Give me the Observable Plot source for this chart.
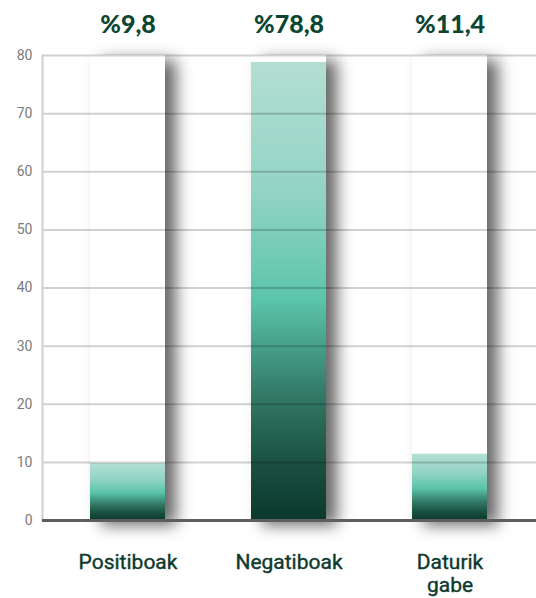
<!DOCTYPE html>
<html>
<head>
<meta charset="utf-8">
<script src="https://cdn.jsdelivr.net/npm/d3@7"></script>
<script src="https://cdn.jsdelivr.net/npm/@observablehq/plot@0.6"></script>
<style>
  html, body { margin: 0; padding: 0; background: #fff; }
  #chart svg { display: block; }
</style>
</head>
<body>
<div id="chart"></div>
<script>
const categories = ["Positiboak", "Negatiboak", "Daturik gabe"];
const values = [9.8, 78.8, 11.4];
const valueLabels = ["%9,8", "%78,8", "%11,4"];
const categoryLabels = ["Positiboak", "Negatiboak", "Daturik\ngabe"];
const yTicks = [0, 10, 20, 30, 40, 50, 60, 70, 80];
const yMax = 80;

const data = categories.map((c, i) => ({cat: c, value: values[i], label: valueLabels[i], name: categoryLabels[i]}));

const defs = () => {
  const ns = "http://www.w3.org/2000/svg";
  const d = document.createElementNS(ns, "defs");
  d.innerHTML = `
    <linearGradient id="barGrad" x1="0" y1="0" x2="0" y2="1">
      <stop offset="0%" stop-color="#b4ded4"/>
      <stop offset="28%" stop-color="#93d4c4"/>
      <stop offset="52%" stop-color="#5bc4aa"/>
      <stop offset="72%" stop-color="#337b68"/>
      <stop offset="88%" stop-color="#1a4f40"/>
      <stop offset="100%" stop-color="#0a392b"/>
    </linearGradient>
    <filter id="shadow" x="-30%" y="-10%" width="190%" height="125%">
      <feDropShadow dx="11" dy="5" stdDeviation="8" flood-color="#000" flood-opacity="0.6"/>
    </filter>`;
  return d;
};

const chart = Plot.plot({
  width: 536,
  height: 598,
  marginTop: 55,
  marginBottom: 78,
  marginLeft: 42,
  marginRight: 0,
  style: {fontFamily: "Roboto, sans-serif", background: "#fff"},
  x: {domain: categories, paddingInner: 0.534, paddingOuter: 0.3, axis: null},
  y: {domain: [0, yMax], axis: null},
  marks: [
    defs,
    Plot.barY(data, {x: "cat", y: () => yMax, fill: "#fff"}),
    Plot.barY(data, {x: "cat", y: "value", fill: "url(#barGrad)"}),
    Plot.ruleY(yTicks.filter(d => d > 0), {stroke: "#000", strokeOpacity: 0.18, strokeWidth: 2}),
    Plot.frame({anchor: "left", stroke: "#cfcfcf", strokeWidth: 2}),
    Plot.ruleY([0], {stroke: "#5e5e5e", strokeWidth: 3}),
    Plot.text(yTicks, {y: d => d, frameAnchor: "left", dx: -10, textAnchor: "end", fill: "#7a7a7a", fontSize: 14}),
    Plot.text(data, {x: "cat", text: "label", frameAnchor: "top", dy: -40, fill: "#0d4533", fontSize: 25, fontWeight: 900, letterSpacing: 1.2, fontFamily: "Lato, Roboto, sans-serif"}),
    Plot.text(data, {x: "cat", text: "name", frameAnchor: "bottom", dy: 32, lineAnchor: "top", fill: "#0d3a2d", fontSize: 21, fontWeight: "normal", lineHeight: 1.1, letterSpacing: 0.8, stroke: "#0d3a2d", strokeWidth: 0.4})
  ]
});

const bars = chart.querySelectorAll('g[aria-label="bar"]');
if (bars.length) bars[0].setAttribute("filter", "url(#shadow)");

document.getElementById("chart").appendChild(chart);
</script>
</body>
</html>
